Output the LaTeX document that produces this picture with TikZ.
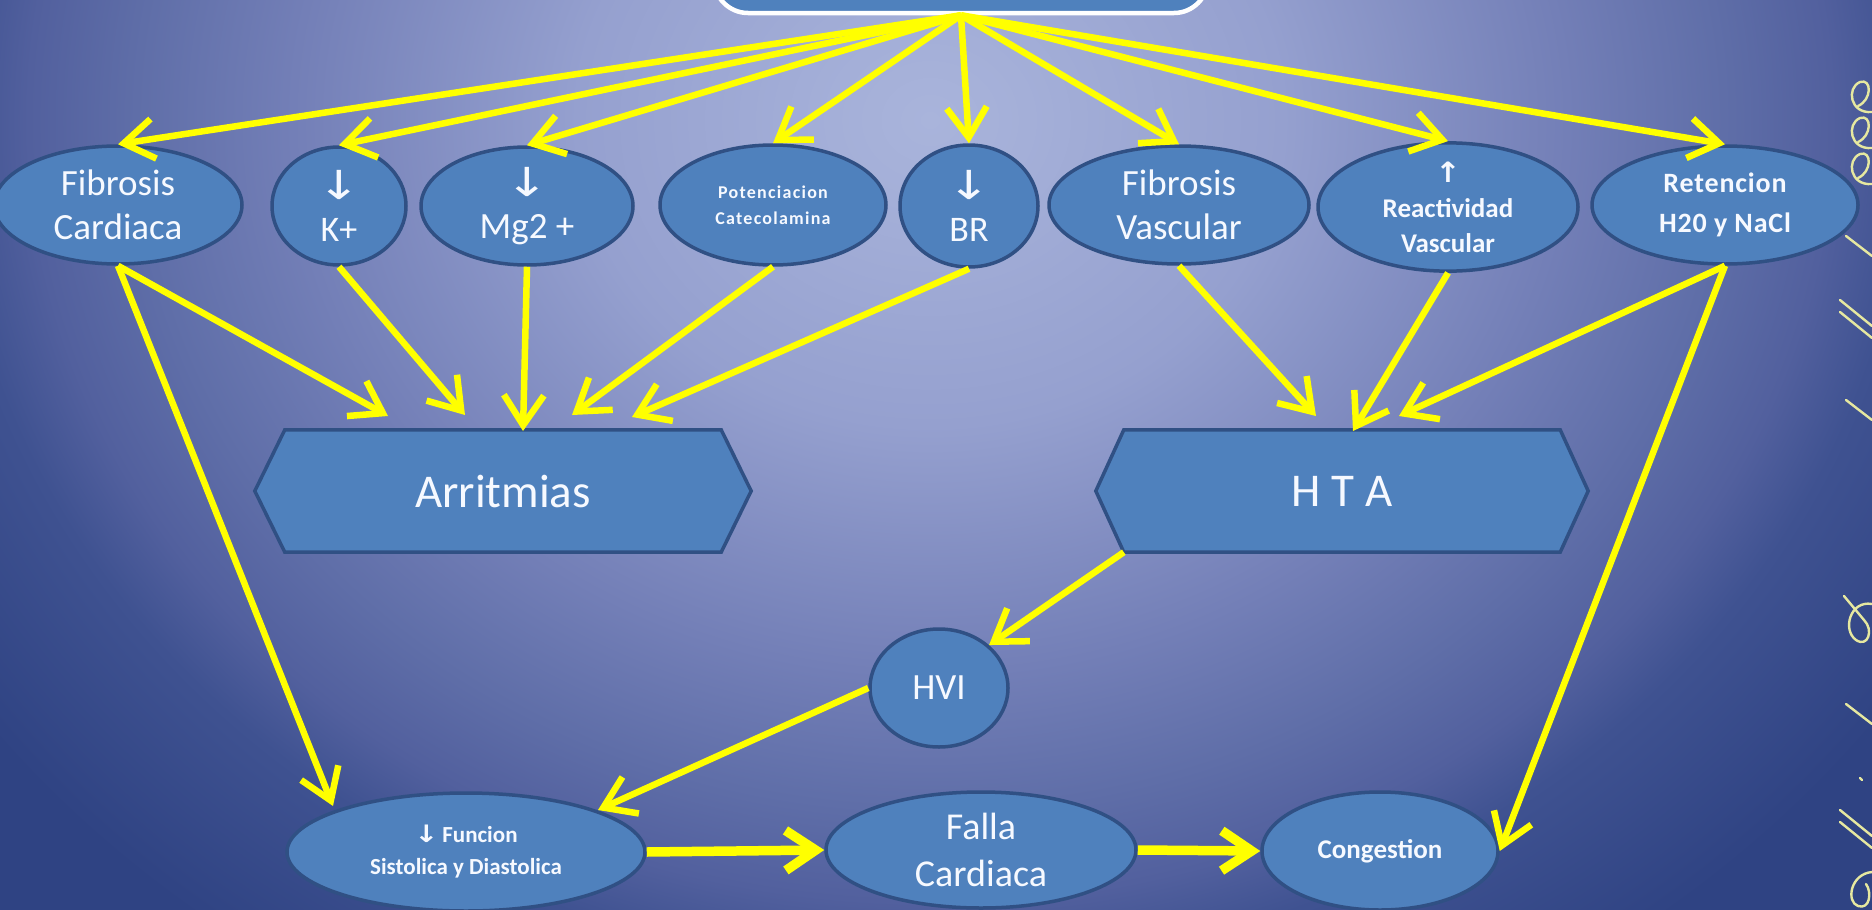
\documentclass[tikz,border=0pt]{standalone}
\usepackage{fontspec}
\usepackage{graphicx}
\setmainfont{Carlito}
\newfontfamily\symfont{DejaVu Sans}
\usetikzlibrary{arrows.meta,shapes.geometric,calc}

\pgfdeclarelayer{backdrop}
\pgfdeclarelayer{shapes}
\pgfsetlayers{backdrop,shapes,main}

% palette
\definecolor{bubfill}{RGB}{79,129,189}
\definecolor{bubedge}{RGB}{48,80,132}
\definecolor{flow}{RGB}{255,255,0}
\definecolor{ink}{RGB}{246,249,255}
\definecolor{scrawl}{RGB}{230,232,160}
\definecolor{bgA}{HTML}{A9B4DB}
\definecolor{bgB}{HTML}{A4AFD8}
\definecolor{bgC}{HTML}{95A0CF}
\definecolor{bgD}{HTML}{737FB7}
\definecolor{bgE}{HTML}{5F6EA8}
\definecolor{bgF}{HTML}{52609E}
\definecolor{bgG}{HTML}{3F5291}
\definecolor{bgH}{HTML}{2F4383}

% slide backdrop: bright near the top centre, darker towards the edges
\pgfdeclareradialshading{slidebg}{\pgfpoint{0bp}{0bp}}{%
  color(0bp)=(bgA); color(2.5bp)=(bgB); color(9bp)=(bgC); color(16.25bp)=(bgD);
  color(20.25bp)=(bgE); color(23bp)=(bgF); color(25bp)=(bgG); color(30bp)=(bgH);
  color(50bp)=(bgH)}

% widened arrow glyphs
\newcommand{\dn}{\scalebox{1.3}[1]{\symfont\fontsize{40}{40}\selectfont ↓}}
\newcommand{\upa}{\scalebox{1.1}[1]{\symfont\fontsize{28}{28}\selectfont ↑}}
\newcommand{\dnsmall}{\scalebox{1.2}[1]{\symfont\fontsize{24}{24}\selectfont ↓}}

\tikzset{
  bub/.style={ellipse, draw=bubedge, fill=bubfill, line width=3.5pt, text=ink,
    align=center, inner sep=0pt, font=\fontsize{36}{42}\selectfont},
  hexlabel/.style={rectangle, inner sep=0pt, minimum width=436pt,
    minimum height=122pt, text=ink, font=\fontsize{47}{56}\selectfont},
  hexbox/.style={draw=bubedge, fill=bubfill, line width=3.5pt, line join=miter},
  link/.style={draw=flow, line width=6.5pt,
    -{Straight Barb[length=30pt,width=40pt]}},
  wide link/.style={link, line width=9.5pt},
  scrawlline/.style={draw=scrawl, line width=2.4pt, line cap=round, line join=round},
}

\begin{document}
\begin{tikzpicture}[x=1pt,y=-1pt]
\useasboundingbox (0,0) rectangle (1872,910);

\begin{pgfonlayer}{backdrop}
  \begin{scope}
    \clip (0,0) rectangle (1872,910);
    \shade[shading=slidebg] (-50,-730) rectangle (1910,970);
    % handwritten flourish along the right margin
    \draw[scrawlline] (1872,112) .. controls (1850,114) and (1846,88) .. (1860,82)
      .. controls (1872,78) and (1872,100) .. (1858,106);
    \draw[scrawlline] (1872,148) .. controls (1850,150) and (1846,124) .. (1860,118)
      .. controls (1872,114) and (1872,136) .. (1858,142);
    \draw[scrawlline] (1872,184) .. controls (1850,186) and (1846,160) .. (1860,154)
      .. controls (1872,150) and (1872,172) .. (1858,178);
    \draw[scrawlline] (1846,236) -- (1872,256);
    \draw[scrawlline] (1840,300) -- (1872,326);
    \draw[scrawlline] (1840,312) -- (1872,338);
    \draw[scrawlline] (1846,400) -- (1872,420);
    \draw[scrawlline] (1872,604) .. controls (1850,600) and (1842,630) .. (1856,640)
      .. controls (1868,648) and (1874,630) .. (1864,620) -- (1844,596);
    \draw[scrawlline] (1846,704) -- (1872,724);
    \draw[scrawlline] (1860,778) -- (1862,780);
    \draw[scrawlline] (1840,810) -- (1872,836);
    \draw[scrawlline] (1840,822) -- (1872,848);
    \draw[scrawlline] (1872,872) .. controls (1850,874) and (1846,902) .. (1858,906)
      .. controls (1870,910) and (1872,892) .. (1866,884);
  \end{scope}
\end{pgfonlayer}

% title box, mostly above the frame
\node[draw=white, fill=bubfill, line width=4.5pt, rounded corners=34pt,
  minimum width=494pt, minimum height=80pt, inner sep=0pt] (root) at (961,-27) {};

% first row of effects
\node[bub, minimum width=248pt, minimum height=118pt,
  font=\fontsize{37}{44}\selectfont] (fc) at (118,205) {Fibrosis\\Cardiaca};
\node[bub, minimum width=134pt, minimum height=118pt] (kp) at (339,206) {\dn\\K+};
\node[bub, minimum width=212pt, minimum height=118pt,
  font=\fontsize{37}{42}\selectfont] (mg) at (527,206) {\dn\\Mg2 +};
\node[bub, minimum width=226pt, minimum height=120pt,
  font=\fontsize{18}{26}\selectfont\bfseries\addfontfeatures{LetterSpace=7}] (pot) at (773,205)
  {Potenciacion\\Catecolamina};
\node[bub, minimum width=138pt, minimum height=122pt] (br) at (969,206) {\dn\\BR};
\node[bub, minimum width=260pt, minimum height=118pt,
  font=\fontsize{37}{44}\selectfont] (fv) at (1179,205) {Fibrosis\\Vascular};
\node[bub, minimum width=260pt, minimum height=118pt,
  font=\fontsize{27}{35}\selectfont\bfseries] (rv) at (1448,207)
  {\upa\\Reactividad\\Vascular};
\node[bub, minimum width=266pt, minimum height=118pt,
  font=\fontsize{28}{40}\selectfont\bfseries\addfontfeatures{LetterSpace=3}] (ret) at (1725,205)
  {Retencion\\H20 y NaCl};

% outcomes
\node[hexlabel] (arr) at (503,491) {Arritmias};
\node[hexlabel] (hta) at (1342,491) {H T A};
\begin{pgfonlayer}{shapes}
  \path[hexbox] ($(arr.west)+(-30,0)$) -- (arr.north west) -- (arr.north east)
    -- ($(arr.east)+(30,0)$) -- (arr.south east) -- (arr.south west) -- cycle;
  \path[hexbox] ($(hta.west)+(-28,0)$) -- (hta.north west) -- (hta.north east)
    -- ($(hta.east)+(28,0)$) -- (hta.south east) -- (hta.south west) -- cycle;
\end{pgfonlayer}

\node[bub, minimum width=138pt, minimum height=118pt,
  font=\fontsize{37}{44}\selectfont] (hvi) at (939,688) {HVI};
\node[bub, minimum width=358pt, minimum height=118pt,
  font=\fontsize{23}{32}\selectfont\bfseries] (fun) at (466,852)
  {\dnsmall\,Funcion\\Sistolica y Diastolica};
\node[bub, minimum width=310pt, minimum height=116pt,
  font=\fontsize{38}{47}\selectfont] (fal) at (981,850) {Falla\\Cardiaca};
\node[bub, minimum width=236pt, minimum height=118pt,
  font=\fontsize{27}{36}\selectfont\bfseries] (cong) at (1380,851) {Congestion};

% arrow landing points above the outcome boxes
\coordinate (a1) at (388,416);
\coordinate (a2) at (465,415);
\coordinate (a3) at (523,431);
\coordinate (a4) at (572,415);
\coordinate (a5) at (632,417);
\coordinate (h1) at (1316,416);
\coordinate (h2) at (1353,431);
\coordinate (h3) at (1399,416);
\coordinate (f1) at (333,806);
\coordinate (f2) at (598,810);

% fan-out from the title box
\foreach \n in {fc,kp,mg,pot,br,fv,rv,ret}
  \draw[link] (root.south) -- (\n.north);

% into Arritmias
\draw[link] (fc.south) -- (a1);
\draw[link] (kp.south) -- (a2);
\draw[link] (mg.south) -- (a3);
\draw[link] (pot.south) -- (a4);
\draw[link] (br.south) -- (a5);

% into HTA
\draw[link] (fv.south) -- (h1);
\draw[link] (rv.south) -- (h2);
\draw[link] (ret.south) -- (h3);

% lower chain
\draw[link] (fc.south) -- (f1);
\draw[link] (ret.south) -- (cong.east);
\draw[link] (hta.south west) -- (hvi.north east);
\draw[link] (hvi.west) -- (f2);
\draw[wide link] (fun.east) -- (fal.west);
\draw[wide link] (fal.east) -- (cong.west);

\end{tikzpicture}
\end{document}
